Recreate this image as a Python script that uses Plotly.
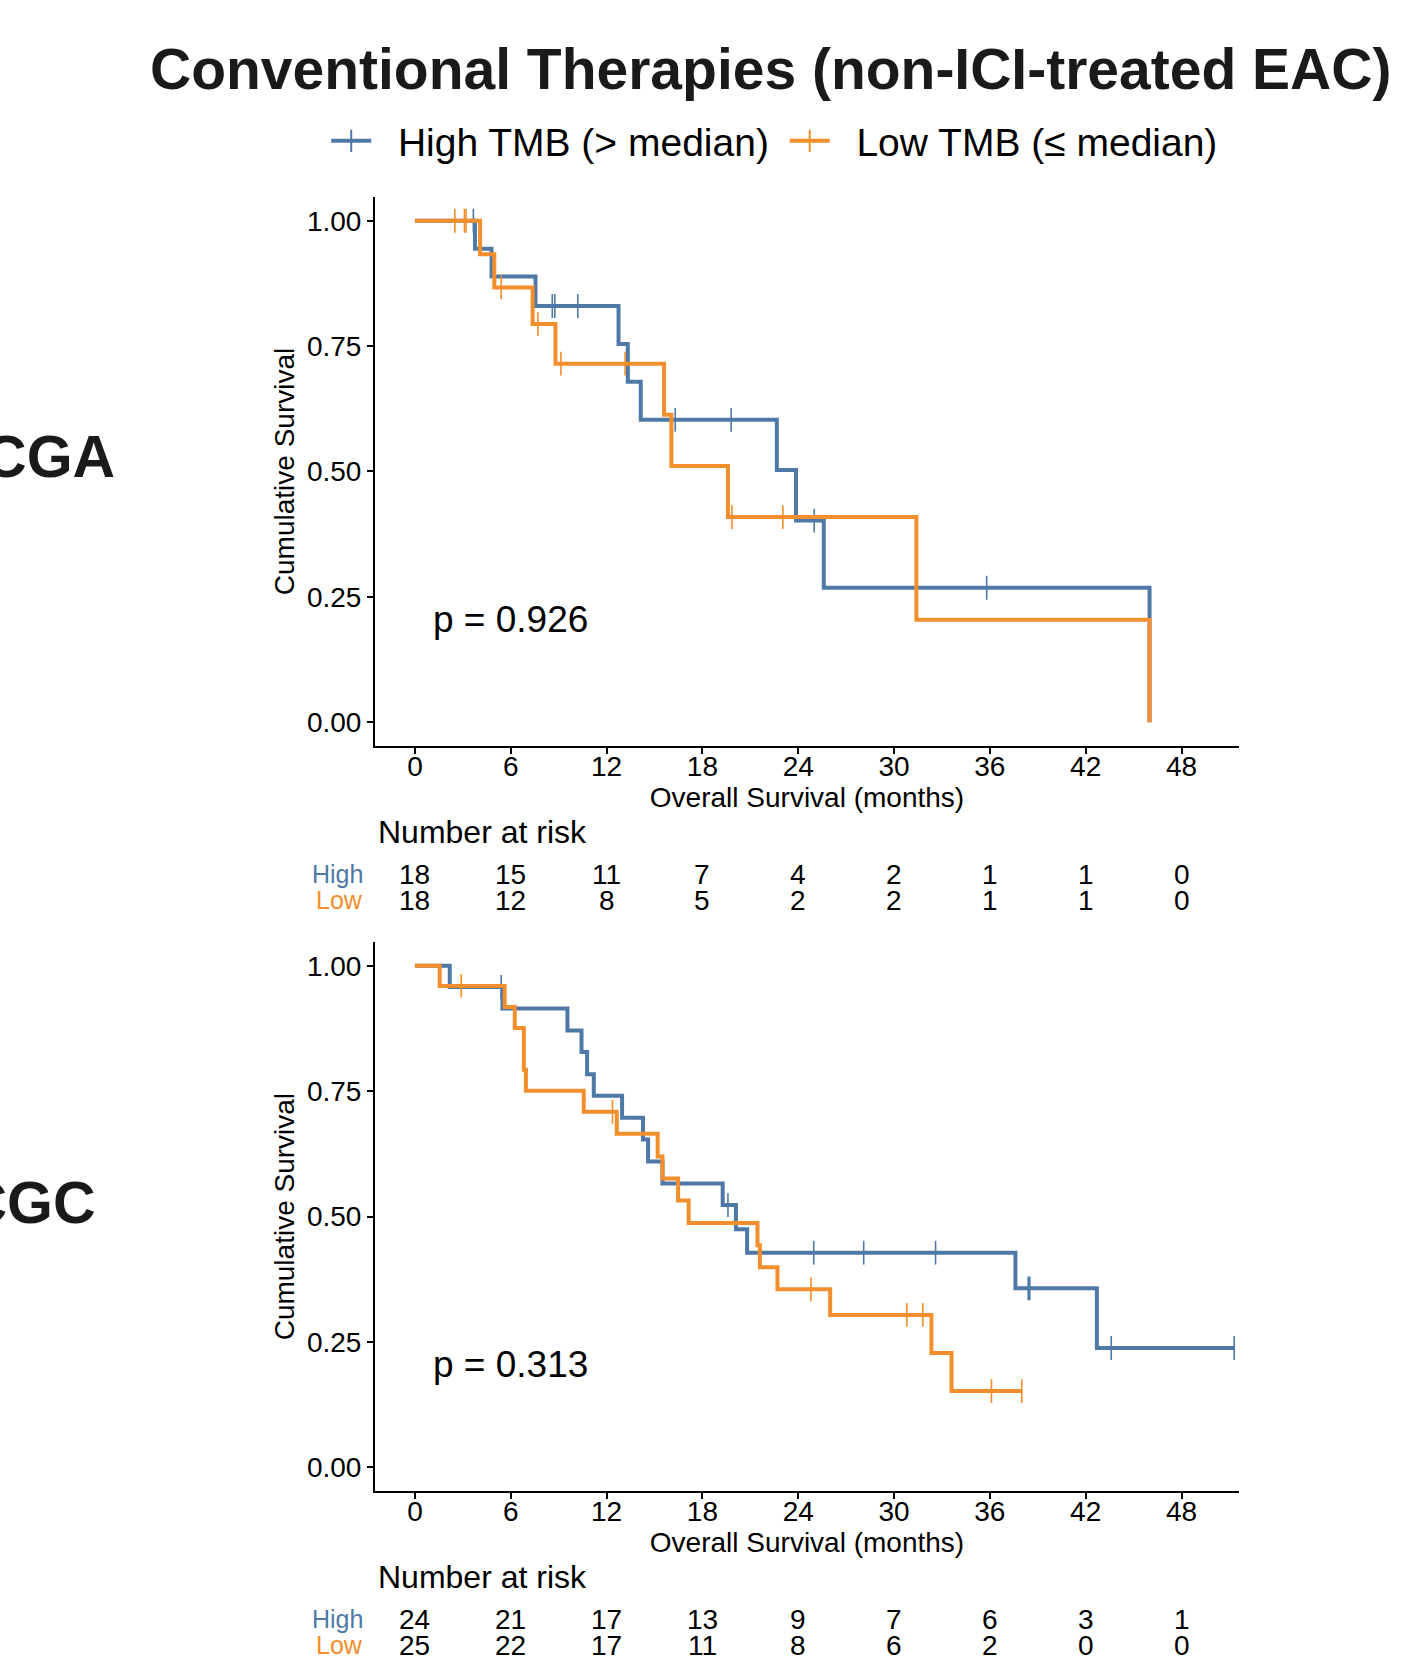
import plotly.graph_objects as go

W, H = 1406, 1661
BLUE = "#4E79A7"
ORANGE = "#F28E2B"
FONT = "Liberation Sans, Arial, sans-serif"

# ---- TCGA: Kaplan-Meier steps ----
tcga_high_t = [0, 3.76, 4.8, 7.55, 12.75, 13.33, 14.14, 22.66, 23.86, 25.6, 46.0]
tcga_high_s = [1.0, 0.944, 0.889, 0.830, 0.754, 0.679, 0.603, 0.503, 0.402, 0.268, 0.0]
tcga_high_cens_t = [3.66, 8.6, 8.76, 10.2, 16.3, 19.8, 25.0, 35.8]
tcga_high_cens_s = [1.0, 0.830, 0.830, 0.830, 0.603, 0.603, 0.402, 0.268]

tcga_low_t = [0, 4.08, 4.97, 7.37, 8.8, 15.6, 16.06, 19.6, 31.4, 46.0]
tcga_low_s = [1.0, 0.933, 0.867, 0.794, 0.715, 0.613, 0.511, 0.409, 0.204, 0.0]
tcga_low_cens_t = [2.5, 3.1, 3.2, 5.4, 7.7, 9.14, 13.16, 19.85, 23.04]
tcga_low_cens_s = [1.0, 1.0, 1.0, 0.867, 0.794, 0.715, 0.715, 0.409, 0.409]

# ---- ICGC ----
icgc_high_t = [0, 2.18, 5.48, 9.55, 10.43, 10.78, 11.2, 12.97, 14.28, 14.6, 15.5,
               19.27, 20.1, 20.8, 37.6, 42.7, 51.3]
icgc_high_s = [1.0, 0.958, 0.915, 0.871, 0.828, 0.784, 0.741, 0.697, 0.654, 0.610, 0.566,
               0.523, 0.475, 0.428, 0.357, 0.238, 0.238]
icgc_high_cens_t = [5.4, 19.6, 24.97, 28.1, 32.6, 38.4, 38.5, 43.6, 51.3]
icgc_high_cens_s = [0.958, 0.523, 0.428, 0.428, 0.428, 0.357, 0.357, 0.238, 0.238]

icgc_low_t = [0, 1.55, 5.62, 6.25, 6.82, 6.95, 10.57, 12.64, 15.2, 15.5, 16.48, 17.14,
              21.45, 21.6, 22.7, 26.0, 32.34, 33.6, 38.0]
icgc_low_s = [1.0, 0.96, 0.918, 0.876, 0.793, 0.751, 0.709, 0.665, 0.620, 0.576, 0.532, 0.487,
              0.443, 0.399, 0.355, 0.304, 0.228, 0.152, 0.152]
icgc_low_cens_t = [2.9, 12.37, 24.8, 30.8, 31.8, 36.1, 38.0]
icgc_low_cens_s = [0.96, 0.709, 0.355, 0.304, 0.304, 0.152, 0.152]

# ---- number at risk ----
risk_times = [0, 6, 12, 18, 24, 30, 36, 42, 48]
tcga_risk_high = [18, 15, 11, 7, 4, 2, 1, 1, 0]
tcga_risk_low = [18, 12, 8, 5, 2, 2, 1, 1, 0]
icgc_risk_high = [24, 21, 17, 13, 9, 7, 6, 3, 1]
icgc_risk_low = [25, 22, 17, 11, 8, 6, 2, 0, 0]

y_ticks = [0, 0.25, 0.5, 0.75, 1.0]
p_values = ["p = 0.926", "p = 0.313"]
cohorts = ["TCGA", "ICGC"]
legend_names = ["\u00a0\u00a0High TMB (> median)\u00a0", "\u00a0\u00a0Low TMB (\u2264 median)"]


def px(x):
    return x / W


def py(y):
    return 1 - y / H


fig = go.Figure()

panels = [
    ("x", "y", tcga_high_t, tcga_high_s, tcga_high_cens_t, tcga_high_cens_s,
     tcga_low_t, tcga_low_s, tcga_low_cens_t, tcga_low_cens_s),
    ("x2", "y2", icgc_high_t, icgc_high_s, icgc_high_cens_t, icgc_high_cens_s,
     icgc_low_t, icgc_low_s, icgc_low_cens_t, icgc_low_cens_s),
]

for xa, ya, ht, hs, hct, hcs, lt, ls, lct, lcs in panels:
    for t, s, ct, cs, col in [(ht, hs, hct, hcs, BLUE), (lt, ls, lct, lcs, ORANGE)]:
        fig.add_trace(go.Scatter(x=t, y=s, mode="lines", line=dict(color=col, width=4, shape="hv"),
                                 xaxis=xa, yaxis=ya, showlegend=False, hoverinfo="skip"))
        fig.add_trace(go.Scatter(x=ct, y=cs, mode="markers",
                                 marker=dict(symbol="line-ns-open", size=17, color=col,
                                             line=dict(color=col, width=1.6)),
                                 xaxis=xa, yaxis=ya, showlegend=False, hoverinfo="skip"))

# legend entries ("+" style like ggsurvplot)
for name, col in zip(legend_names, [BLUE, ORANGE]):
    fig.add_trace(go.Scatter(x=[None], y=[None], mode="lines+markers", name=name,
                             line=dict(color=col, width=4),
                             marker=dict(symbol="line-ns-open", size=16, color=col,
                                         line=dict(color=col, width=2))))

# panel geometry (pixels)
top_y0, top_y1 = 196.7, 746.2
bot_y0, bot_y1 = 941.8, 1491.4
x0_px, x1_px = 375, 1239

xax = dict(range=[-2.5, 51.6], tickvals=risk_times, showline=True, linecolor="black", linewidth=2,
           ticks="outside", ticklen=6, tickwidth=2, tickcolor="black", showgrid=False, zeroline=False,
           tickfont=dict(size=28, color="black", family=FONT), automargin=False, ticklabelstandoff=-12,
           title=dict(text="Overall Survival (months)", font=dict(size=28, color="black", family=FONT), standoff=4))
yax = dict(range=[-0.048, 1.048], tickvals=y_ticks, tickformat=".2f", showline=True, linecolor="black",
           linewidth=2, ticks="outside", ticklen=6, tickwidth=2, tickcolor="black", showgrid=False,
           zeroline=False, tickfont=dict(size=28, color="black", family=FONT), automargin=False,
           title=dict(text="Cumulative Survival", font=dict(size=28, color="black", family=FONT), standoff=4))

fig.update_layout(
    width=W, height=H, autosize=False,
    margin=dict(l=0, r=0, t=0, b=0),
    paper_bgcolor="white", plot_bgcolor="white",
    font=dict(family=FONT, color="black"),
    xaxis=dict(xax, domain=[px(x0_px), px(x1_px)], anchor="y"),
    yaxis=dict(yax, domain=[py(top_y1), py(top_y0)], anchor="x"),
    xaxis2=dict(xax, domain=[px(x0_px), px(x1_px)], anchor="y2"),
    yaxis2=dict(yax, domain=[py(bot_y1), py(bot_y0)], anchor="x2"),
    legend=dict(orientation="h", x=0.551, xanchor="center", y=py(141), yanchor="middle",
                font=dict(size=39, color="black", family=FONT), bgcolor="rgba(0,0,0,0)",
                itemwidth=40, tracegroupgap=0),
)

ann = []
ann.append(dict(text="Conventional Therapies (non-ICI-treated EAC)", x=px(770), y=py(69),
                xref="paper", yref="paper", xanchor="center", yanchor="middle", showarrow=False,
                font=dict(size=57, color="#1a1a1a", family=FONT, weight="bold")))

for i, (xa, ya, axis_line, rh, rl) in enumerate([
        ("x", "y", top_y1, tcga_risk_high, tcga_risk_low),
        ("x2", "y2", bot_y1, icgc_risk_high, icgc_risk_low)]):
    mid = (top_y0 + top_y1) / 2 if i == 0 else (bot_y0 + bot_y1) / 2
    # cohort label, partly cut by the left edge as in the original
    ann.append(dict(text=cohorts[i], x=px(-54), y=py(mid - 14), xref="paper", yref="paper",
                    xanchor="left", yanchor="middle", showarrow=False,
                    font=dict(size=59, color="#1a1a1a", family=FONT, weight="bold")))
    ann.append(dict(text=p_values[i], x=1.0, y=0.205, xref=xa, yref=ya, xanchor="left",
                    yanchor="middle", showarrow=False, font=dict(size=37, color="black", family=FONT)))
    ann.append(dict(text="Number at risk", x=px(376), y=py(axis_line + 86), xref="paper", yref="paper",
                    xanchor="left", yanchor="middle", showarrow=False,
                    font=dict(size=32, color="black", family=FONT)))
    for label, col, counts, dy in [("High", BLUE, rh, 128), ("Low", ORANGE, rl, 154)]:
        ann.append(dict(text=label, x=px(365), y=py(axis_line + dy), xref="paper", yref="paper",
                        xanchor="right", yanchor="middle", showarrow=False,
                        font=dict(size=25, color=col, family=FONT)))
        for t, n in zip(risk_times, counts):
            ann.append(dict(text=str(n), x=t, y=py(axis_line + dy), xref=xa, yref="paper",
                            xanchor="center", yanchor="middle", showarrow=False,
                            font=dict(size=28, color="black", family=FONT)))

fig.update_layout(annotations=ann)

fig.write_html("out.html", config={"displayModeBar": False},
               post_script="document.body.style.margin='0';")
